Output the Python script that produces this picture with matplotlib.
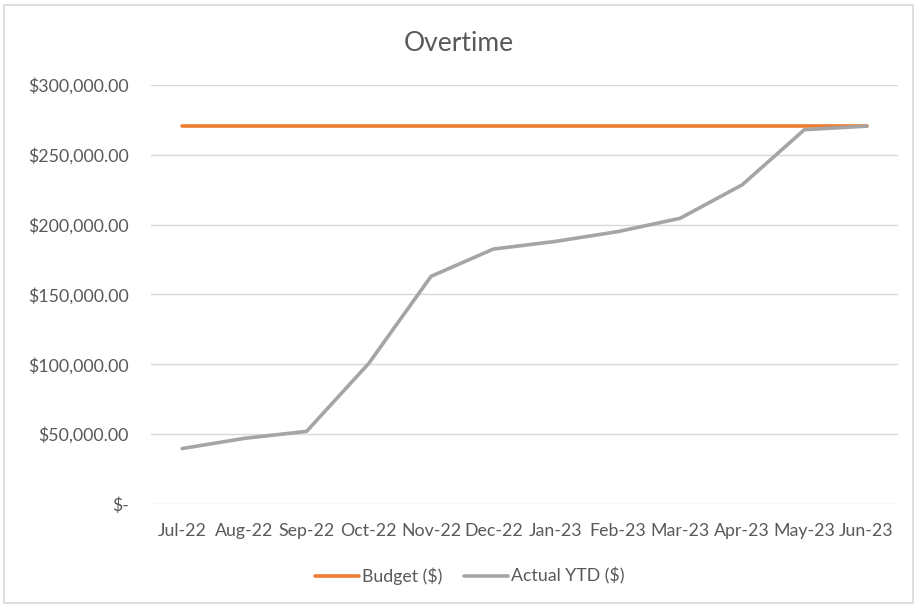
import matplotlib
matplotlib.use('Agg')
import matplotlib.pyplot as plt
from matplotlib.patches import FancyBboxPatch

# chart data
months = ['Jul-22', 'Aug-22', 'Sep-22', 'Oct-22', 'Nov-22', 'Dec-22',
          'Jan-23', 'Feb-23', 'Mar-23', 'Apr-23', 'May-23', 'Jun-23']
budget = [270500] * 12
actual_ytd = [39700, 47000, 52000, 100700, 163000, 182500,
              188000, 195000, 204500, 228500, 268000, 270500]
y_ticks = [0, 50000, 100000, 150000, 200000, 250000, 300000]

plt.rcParams['font.family'] = ['Lato', 'DejaVu Sans']
text_col = '#595959'

fig = plt.figure(figsize=(9.17, 6.07), dpi=100)
ax = fig.add_axes([0.1647, 0.1697, 0.8143, 0.6903])

x = range(len(months))
ax.plot(x, budget, color='#ED7D31', lw=2.6, label='Budget ($)', solid_capstyle='round', zorder=3)
ax.plot(x, actual_ytd, color='#A5A5A5', lw=2.6, label='Actual YTD ($)', solid_capstyle='round', zorder=4)

ax.set_xlim(-0.5, len(months) - 0.5)
ax.set_ylim(0, 300000)
ax.set_xticks(list(x))
ax.set_xticklabels(months)
ax.set_yticks(y_ticks)
# accounting style labels, zero shown as "$-"
ax.set_yticklabels(['$-' if v == 0 else f'${v:,.2f}' for v in y_ticks])
ax.tick_params(length=0, labelsize=12.8, colors=text_col)
ax.tick_params(axis='x', pad=14)
ax.tick_params(axis='y', pad=16)
ax.grid(axis='y', color='#D9D9D9', lw=1)
ax.set_axisbelow(True)
for s in ax.spines.values():
    s.set_visible(False)

fig.text(0.5, 0.929, 'Overtime', ha='center', va='center', fontsize=19, color=text_col)

fig.legend(loc='center', bbox_to_anchor=(0.512, 0.051), ncol=2, frameon=False,
           fontsize=12.8, labelcolor=text_col, handlelength=2.5, handletextpad=0.15,
           columnspacing=1.2)

# light chart border like the spreadsheet frame
border = FancyBboxPatch((0.004, 0.006), 0.992, 0.986, boxstyle='square,pad=0',
                        transform=fig.transFigure, fill=False, ec='#D9D9D9', lw=1.2)
fig.patches.append(border)

fig.savefig('out.png', dpi=100)
